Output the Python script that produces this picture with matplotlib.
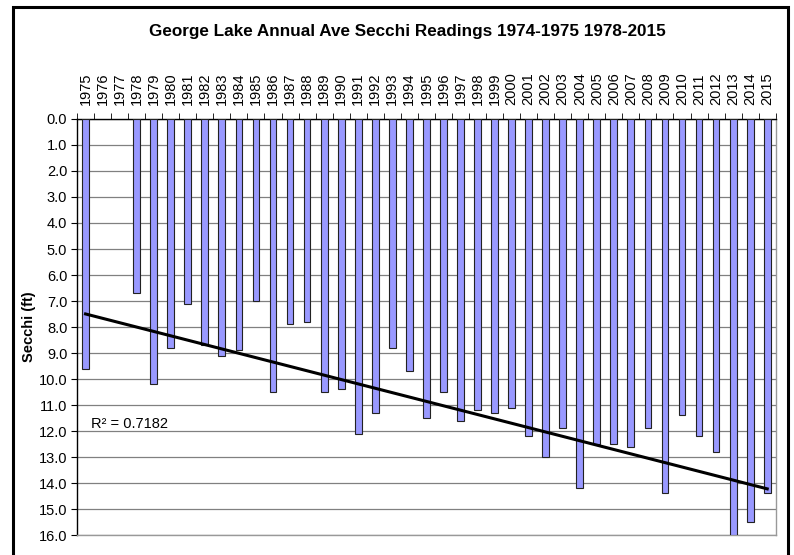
import matplotlib
matplotlib.use('Agg')
import matplotlib.pyplot as plt
import numpy as np
from matplotlib.patches import Rectangle

plt.rcParams['font.family'] = ['Liberation Sans', 'DejaVu Sans']

# Data (1976, 1977 have no reading)
years = list(range(1975, 2016))
secchi = [9.6, None, None, 6.7, 10.2, 8.8, 7.1, 8.7, 9.1, 8.9,
          7.0, 10.5, 7.9, 7.8, 10.5, 10.4, 12.1, 11.3, 8.8, 9.7,
          11.5, 10.5, 11.6, 11.2, 11.3, 11.1, 12.2, 13.0, 11.9, 14.2,
          12.5, 12.5, 12.6, 11.9, 14.4, 11.4, 12.2, 12.8, 16.0, 15.5,
          14.4]
r2_text = 'R² = 0.7182'
title = 'George Lake Annual Ave Secchi Readings 1974-1975 1978-2015'

x = np.arange(len(years))
vals = np.array([np.nan if v is None else v for v in secchi])
have = ~np.isnan(vals)

fig = plt.figure(figsize=(7.94, 5.55), dpi=100)
ax = fig.add_axes([0.097, 0.036, 0.88, 0.7496])

ax.bar(x[have], vals[have], width=0.4, color='#9999FF',
       edgecolor='#222222', linewidth=0.8, zorder=3)

# linear trend
m, b = np.polyfit(x[have], vals[have], 1)
ax.plot([x[0], x[-1]], [m * x[0] + b, m * x[-1] + b], color='black', lw=2.2, zorder=4)

ax.set_xlim(-0.5, len(years) - 0.5)
ax.set_ylim(16, 0)
ax.set_yticks(np.arange(0, 17, 1))
ax.set_yticklabels(['%.1f' % v for v in range(17)], fontsize=10.5)
ax.yaxis.grid(True, color='#808080', lw=0.9, zorder=0)

ax.xaxis.tick_top()
ax.set_xticks(x)
ax.set_xticklabels([str(y) for y in years], rotation=90, fontsize=10.5)
ax.set_xticks(np.arange(-0.5, len(years)), minor=True)
ax.tick_params(axis='x', which='major', length=0, pad=10)
ax.tick_params(axis='x', which='minor', length=4, direction='out', color='black')
ax.tick_params(axis='y', length=4, direction='out', pad=3)

ax.spines['top'].set_color('black')
ax.spines['left'].set_color('black')
ax.spines['right'].set_color('#999999')
ax.spines['bottom'].set_color('#999999')
for s in ax.spines.values():
    s.set_linewidth(1.0)

ax.set_ylabel('Secchi (ft)', fontsize=10.5, fontweight='bold', labelpad=2)
ax.text(0.3, 12.0, r2_text, fontsize=10.5, va='bottom', zorder=5)

fig.text(0.513, 0.944, title, ha='center', va='center', fontsize=12.3, fontweight='bold')

# outer frame
fig.patches.append(Rectangle((13 / 794, -0.05), 775 / 794, 1.05 - 7 / 555,
                             transform=fig.transFigure, fill=False,
                             edgecolor='black', lw=2.2))

fig.savefig('out.png', dpi=100)
